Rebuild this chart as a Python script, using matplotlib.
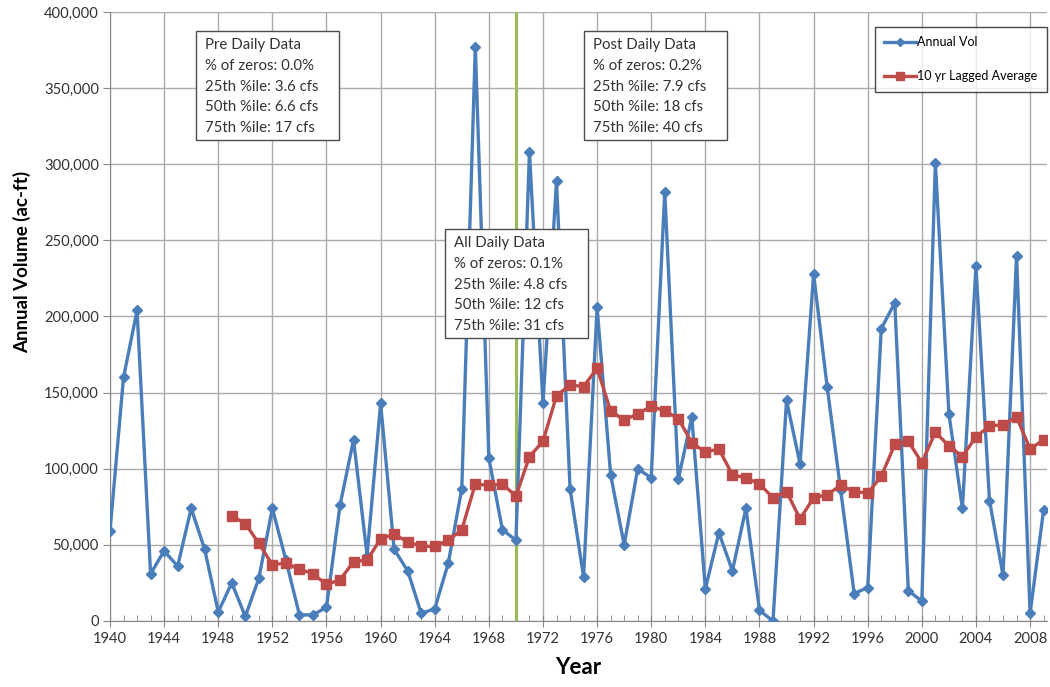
import numpy as np
import matplotlib
matplotlib.use("Agg")
import matplotlib.pyplot as plt
from matplotlib.patches import Rectangle
from matplotlib.ticker import FuncFormatter, MultipleLocator

years = list(range(1940, 2010))
annual_vol = [59000, 160000, 204000, 31000, 46000, 36000, 74000, 47000, 6000, 25000,
              3000, 28000, 74000, 40000, 4000, 4000, 9000, 76000, 119000, 43000,
              143000, 47000, 33000, 5000, 8000, 38000, 87000, 377000, 107000, 60000,
              53000, 308000, 143000, 289000, 87000, 29000, 206000, 96000, 50000, 100000,
              94000, 282000, 93000, 134000, 21000, 58000, 33000, 74000, 7000, 0,
              145000, 103000, 228000, 154000, 86000, 18000, 22000, 192000, 209000, 20000,
              13000, 301000, 136000, 74000, 233000, 79000, 30000, 240000, 5000, 73000]
avg_years = list(range(1949, 2010))
lagged_avg = [69000, 64000, 51000, 37000, 38000, 34000, 31000, 24000, 27000, 39000,
              40000, 54000, 57000, 52000, 49000, 49000, 53000, 60000, 90000, 89000,
              90000, 82000, 108000, 118000, 148000, 155000, 154000, 166000, 138000, 132000,
              136000, 141000, 138000, 133000, 117000, 111000, 113000, 96000, 94000, 90000,
              81000, 85000, 67000, 81000, 83000, 89000, 85000, 84000, 95000, 116000,
              118000, 104000, 124000, 115000, 108000, 121000, 128000, 129000, 134000, 113000,
              119000]
split_year = 1970
box_pre = "Pre Daily Data\n% of zeros: 0.0%\n25th %ile: 3.6 cfs\n50th %ile: 6.6 cfs\n75th %ile: 17 cfs"
box_post = "Post Daily Data\n% of zeros: 0.2%\n25th %ile: 7.9 cfs\n50th %ile: 18 cfs\n75th %ile: 40 cfs"
box_all = "All Daily Data\n% of zeros: 0.1%\n25th %ile: 4.8 cfs\n50th %ile: 12 cfs\n75th %ile: 31 cfs"

plt.rcParams['font.family'] = ['Lato', 'DejaVu Sans']
W, H = 1050, 687
L, R, T, B = 110, 1047, 12, 621   # plot area in pixels
fig = plt.figure(figsize=(W / 100, H / 100), dpi=100)
ax = fig.add_axes([L / W, 1 - B / H, (R - L) / W, (B - T) / H])

def px(x, y):
    """pixel position in the picture -> axes fraction"""
    return (x - L) / (R - L), (B - y) / (B - T)

ax.plot(years, annual_vol, color="#4A7EBB", lw=2.4, marker="D", ms=5.5, label="Annual Vol", zorder=3)
ax.plot(avg_years, lagged_avg, color="#BE4B48", lw=2.4, marker="s", ms=7.5, label="10 yr Lagged Average", zorder=4)
ax.axvline(split_year, color="#9BBB59", lw=2.2, zorder=2)

ax.set_xlim(1940, 2009.25)
ax.set_ylim(0, 400000)
ax.xaxis.set_major_locator(MultipleLocator(4))
ax.xaxis.set_minor_locator(MultipleLocator(1))
ax.yaxis.set_major_locator(MultipleLocator(50000))
ax.yaxis.set_major_formatter(FuncFormatter(lambda v, p: f"{int(v):,}"))
ax.grid(True, which="major", color="#ABABAB", lw=1.0)
ax.set_axisbelow(True)
for s in ("top", "right"):
    ax.spines[s].set_visible(False)
for s in ("left", "bottom"):
    ax.spines[s].set_color("#878787")
ax.tick_params(axis="both", which="major", labelsize=10.6, colors="#878787", labelcolor="#333333", length=5)
ax.tick_params(axis="x", which="major", direction="inout", length=8, pad=4)
ax.tick_params(axis="x", which="minor", direction="in", length=4, colors="#878787")
ax.tick_params(axis="y", which="major", direction="out", length=5, pad=3)

ax.set_xlabel("Year", fontsize=16, fontweight="bold", labelpad=8)
ax.set_ylabel("Annual Volume (ac-ft)", fontsize=13.5, fontweight="bold")
ax.yaxis.set_label_coords(*px(31, 262))

# text boxes: (left, top, right, bottom) in pixels
boxes = [(box_pre, (196, 31, 339, 140)),
         (box_post, (584, 31, 727, 140)),
         (box_all, (445, 229, 588, 338))]
for txt, (x0, y0, x1, y1) in boxes:
    ax0, ay1 = px(x0, y0)
    ax1, ay0 = px(x1, y1)
    ax.add_patch(Rectangle((ax0, ay0), ax1 - ax0, ay1 - ay0, transform=ax.transAxes,
                           fc="white", ec="#4d4d4d", lw=1.0, zorder=6))
    tx, ty = px(x0 + 9, y0 + 7)
    ax.text(tx, ty, txt, transform=ax.transAxes, fontsize=10.8, va="top", ha="left",
            linespacing=1.62, color="#333333", zorder=7)

leg = ax.legend(loc="upper right", bbox_to_anchor=px(R, 27), borderaxespad=0, fontsize=9.0,
                frameon=True, fancybox=False, edgecolor="#1a1a1a", handlelength=2.5,
                labelspacing=1.75, borderpad=0.75, handletextpad=0.15, markerscale=0.75)
leg.get_frame().set_linewidth(1.0)
leg.set_zorder(8)

fig.savefig("out.png", dpi=100)
